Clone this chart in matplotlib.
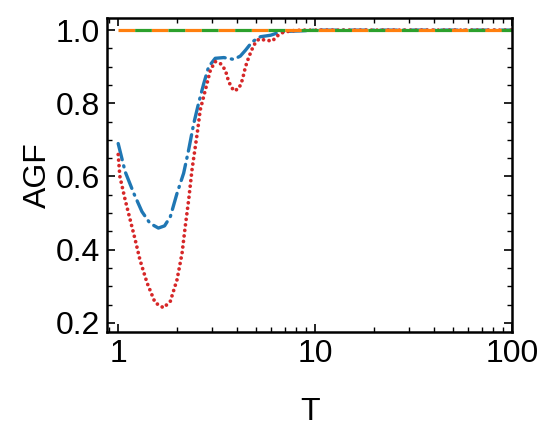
import numpy as np
import matplotlib.pyplot as plt
from matplotlib.ticker import FixedLocator, MultipleLocator, NullFormatter

plt.rcParams["font.family"] = ["Liberation Sans", "DejaVu Sans"]
plt.rcParams["lines.scale_dashes"] = False

# values
T_red = [1.0, 1.02, 1.085, 1.15, 1.22, 1.29, 1.40, 1.54, 1.70, 1.84, 1.99, 2.11, 2.19,
         2.28, 2.37, 2.52, 2.61, 2.77, 2.94, 3.11, 3.30, 3.50, 3.64, 3.86, 4.10, 4.27,
         4.43, 4.61, 4.88, 5.17, 5.60, 6.06, 6.42, 6.82, 7.5, 8.5, 10, 20, 50, 100]
agf_red = [0.66, 0.60, 0.536, 0.482, 0.427, 0.372, 0.31, 0.255, 0.241, 0.259, 0.318, 0.39,
           0.463, 0.536, 0.618, 0.718, 0.782, 0.836, 0.891, 0.914, 0.909, 0.891, 0.859,
           0.834, 0.84, 0.864, 0.90, 0.927, 0.959, 0.975, 0.973, 0.97, 0.984, 0.993,
           0.998, 1.0, 1.0, 1.0, 1.0, 1.0]

T_blue = [1.0, 1.085, 1.20, 1.32, 1.45, 1.60, 1.72, 1.84, 1.99, 2.15, 2.28, 2.42, 2.56,
          2.72, 2.88, 3.11, 3.44, 3.86, 4.17, 4.43, 4.79, 5.28, 5.94, 6.66, 7.5, 8.5,
          10, 20, 50, 100]
agf_blue = [0.69, 0.613, 0.554, 0.504, 0.472, 0.459, 0.465, 0.49, 0.554, 0.609, 0.673,
            0.745, 0.80, 0.854, 0.90, 0.923, 0.925, 0.92, 0.929, 0.945, 0.968, 0.982,
            0.986, 0.995, 0.997, 0.998, 1.0, 1.0, 1.0, 1.0]

T_flat = [1.0, 100.0]
agf_orange = [1.0, 1.0]
agf_green = [1.0, 1.0]

fig = plt.figure(figsize=(5.5, 4.3), dpi=100)
ax = fig.add_axes([0.195, 0.228, 0.736, 0.730])

ax.plot(T_blue, agf_blue, color="#1f77b4", lw=2.4, dashes=(12, 4.5, 0.8, 4.5),
        dash_capstyle="round")
ax.plot(T_red, agf_red, color="#d62728", lw=2.7, linestyle=(0, (0.01, 4.0)),
        dash_capstyle="round")
ax.plot(T_flat, agf_orange, color="#ff7f0e", lw=2.3, dashes=(12, 12))
ax.plot(T_flat, agf_green, color="#2ca02c", lw=2.3, dashes=(0, 12, 12, 0))

ax.set_xscale("log")
ax.set_xlim(0.88, 100)
ax.set_ylim(0.175, 1.033)
ax.set_xticks([1, 10, 100])
ax.set_xticklabels(["1", "10", "100"])
ax.xaxis.set_minor_locator(FixedLocator([k * 10 ** e for e in (-1, 0, 1) for k in range(2, 10)]))
ax.xaxis.set_minor_formatter(NullFormatter())
ax.set_yticks([0.2, 0.4, 0.6, 0.8, 1.0])
ax.set_yticklabels(["0.2", "0.4", "0.6", "0.8", "1.0"])
ax.yaxis.set_minor_locator(MultipleLocator(0.05))

ax.tick_params(which="both", direction="in", top=True, right=True, labelsize=23, color="k")
ax.tick_params(which="major", length=6, width=1.2, pad=5)
ax.tick_params(which="minor", length=3.5, width=1.0)
for s in ax.spines.values():
    s.set_linewidth(1.8)

ax.set_xlabel("T", fontsize=23, labelpad=20)
ax.set_ylabel("AGF", fontsize=23, labelpad=2)

fig.savefig("out.png", dpi=100)
